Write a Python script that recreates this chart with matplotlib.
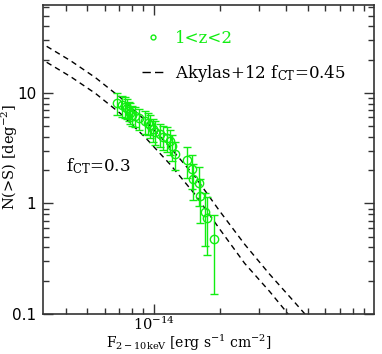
import matplotlib
matplotlib.use("Agg")
import matplotlib.pyplot as plt
from matplotlib.lines import Line2D
from matplotlib.ticker import FixedLocator, LogLocator, NullFormatter, FixedFormatter

plt.rcParams["mathtext.fontset"] = "dejavuserif"

# ---- data ----
flux = [6.84e-15, 7.22e-15, 7.40e-15, 7.58e-15, 7.73e-15, 7.85e-15, 8.01e-15,
        8.21e-15, 8.56e-15, 9.17e-15, 9.43e-15, 9.66e-15, 9.90e-15, 1.018e-14,
        1.072e-14, 1.106e-14, 1.150e-14, 1.190e-14, 1.215e-14, 1.253e-14,
        1.424e-14, 1.495e-14, 1.51e-14, 1.603e-14, 1.63e-14, 1.717e-14,
        1.753e-14, 1.879e-14]
nsrc = [8.17, 7.70, 7.50, 7.26, 6.92, 6.64, 6.37, 6.20, 5.90, 5.58, 5.39, 5.14,
        4.69, 4.47, 4.23, 4.03, 3.95, 3.68, 3.30, 2.79, 2.46, 2.06, 1.67, 1.54,
        1.16, 0.834, 0.743, 0.473]
nerr = [1.9, 1.6, 1.6, 1.5, 1.4, 1.4, 1.3, 1.3, 1.3, 1.3, 1.2, 1.2, 1.1, 1.1,
        1.0, 1.0, 1.0, 0.95, 0.9, 0.8, 0.75, 0.7, 0.6, 0.6, 0.5, 0.42, 0.40, 0.32]

model_flux = [3.0e-15, 4.21e-15, 5.46e-15, 7.08e-15, 9.17e-15, 1.19e-14,
              1.54e-14, 2.0e-14, 2.59e-14, 3.36e-14, 4.36e-14, 5.1e-14]
model_upper = [29.3, 19.5, 13.7, 9.07, 5.62, 3.21, 1.75, 0.847, 0.427, 0.229,
               0.128, 0.0896]
model_lower = [21.0, 14.0, 9.86, 6.50, 3.95, 2.25, 1.21, 0.582, 0.287, 0.160,
               0.085, 0.060]

xlim = (3.15e-15, 1.0e-13)
ylim = (0.1, 62.0)
ytick_vals = [0.1, 1, 10]
ytick_labels = ["0.1", "1", "10"]
xtick_vals = [1e-14]
xtick_labels = [r"$10^{-14}$"]

green = "#11ee11"
serif = "DejaVu Serif"
sans = "DejaVu Sans"

fig = plt.figure(figsize=(3.82, 3.54), dpi=100)
ax = fig.add_axes([0.1126, 0.113, 0.8664, 0.872])
ax.set_xscale("log")
ax.set_yscale("log")

ax.plot(model_flux, model_upper, color="black", lw=1.0, ls=(0, (4, 3)))
ax.plot(model_flux, model_lower, color="black", lw=1.0, ls=(0, (4, 3)))

ax.errorbar(flux, nsrc, yerr=nerr, fmt="o", mfc="none", mec=green, mew=1.0,
            ms=6, ecolor=green, elinewidth=1.0, capsize=2.8, capthick=1.0)

ax.set_xlim(*xlim)
ax.set_ylim(*ylim)

ax.xaxis.set_major_locator(FixedLocator(xtick_vals))
ax.xaxis.set_major_formatter(FixedFormatter(xtick_labels))
ax.xaxis.set_minor_locator(LogLocator(base=10, subs=range(2, 10)))
ax.xaxis.set_minor_formatter(NullFormatter())
ax.yaxis.set_major_locator(FixedLocator(ytick_vals))
ax.yaxis.set_major_formatter(FixedFormatter(ytick_labels))
ax.yaxis.set_minor_locator(LogLocator(base=10, subs=range(2, 10)))
ax.yaxis.set_minor_formatter(NullFormatter())

ax.tick_params(which="both", direction="in", top=True, right=True, color="#333333")
ax.tick_params(which="major", length=7.5, width=1.0, labelsize=11, pad=5)
ax.tick_params(axis="x", which="major", pad=1.5, labelsize=10.5)
ax.tick_params(which="minor", length=4, width=1.0)
for lab in ax.get_xticklabels() + ax.get_yticklabels():
    lab.set_family(sans)
for s in ax.spines.values():
    s.set_linewidth(1.2)
    s.set_color("#333333")

ax.set_xlabel(r"F$_{\rm 2-10keV}$ [erg s$^{-1}$ cm$^{-2}$]", family=serif,
              fontsize=10)
ax.xaxis.set_label_coords(0.44, -0.127)
ax.xaxis.label.set_va("bottom")
ax.set_ylabel(r"N(>S) [deg$^{-2}$]", family=serif, fontsize=10.5)
ax.yaxis.set_label_coords(-0.07, 0.51)

ax.text(0.07, 0.48, r"f$_{\rm CT}$=0.3", transform=ax.transAxes, family=serif,
        fontsize=12, va="center", ha="left")

handles = [Line2D([], [], marker="o", mfc="none", mec=green, mew=1.0, ms=3.5, ls="none"),
           Line2D([], [], color="black", lw=1.0, ls=(0, (6, 3)))]
labels = ["1<z<2", r"Akylas+12 f$_{\rm CT}$=0.45"]
leg = ax.legend(handles, labels, loc="upper left", bbox_to_anchor=(0.298, 0.92),
                frameon=False, borderpad=0, borderaxespad=0, handlelength=1.4,
                handletextpad=0.6, labelspacing=0.95,
                prop={"family": serif, "size": 12})
leg.get_texts()[0].set_color(green)

fig.savefig("out.png", dpi=100)
